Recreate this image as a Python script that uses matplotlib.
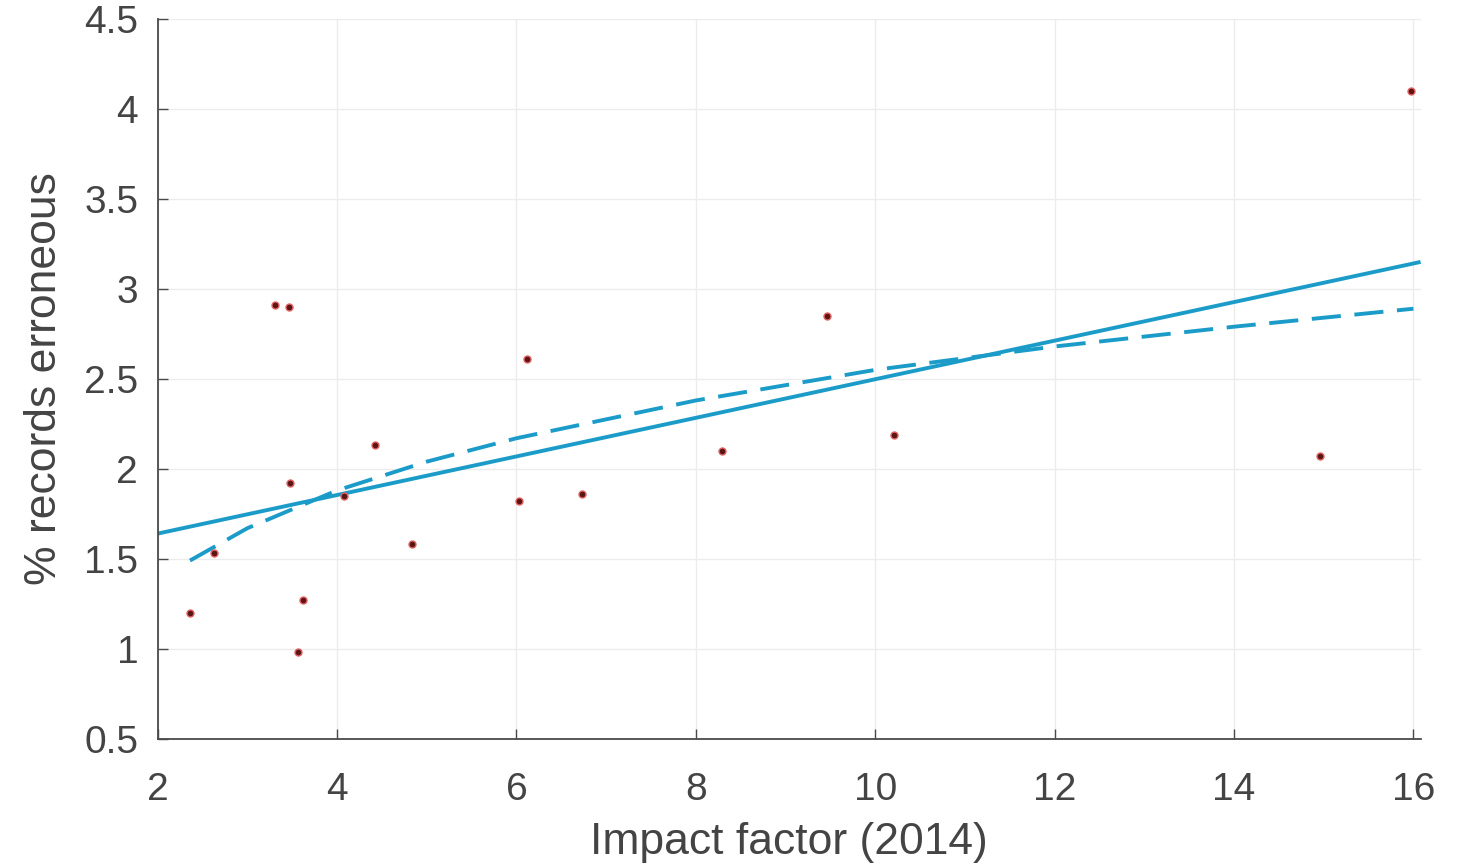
import matplotlib.pyplot as plt

# scatter data
impact = [2.36, 2.63, 3.31, 3.46, 3.47, 3.56, 3.62, 4.08, 4.42, 4.84,
          6.03, 6.12, 6.73, 8.29, 9.46, 10.21, 14.96, 15.97]
pct_err = [1.20, 1.53, 2.91, 2.90, 1.92, 0.98, 1.27, 1.85, 2.13, 1.58,
           1.82, 2.61, 1.86, 2.10, 2.85, 2.19, 2.07, 4.10]

# linear fit line (end points)
lin_x = [2.0, 16.08]
lin_y = [1.64, 3.15]

# curved (dashed) fit
curve_x = [2.36, 3.0, 4.0, 5.0, 6.0, 8.0, 10.0, 12.0, 14.0, 16.0]
curve_y = [1.49, 1.67, 1.88, 2.04, 2.17, 2.38, 2.55, 2.68, 2.79, 2.89]

plt.rcParams['font.family'] = ['Liberation Sans', 'DejaVu Sans']

fig = plt.figure(figsize=(14.6, 8.66), dpi=100)
ax = fig.add_axes([0.108, 0.147, 0.865, 0.831])

line_col = '#1b9cc8'
ax.plot(lin_x, lin_y, color=line_col, lw=2.8, solid_capstyle='butt')
ax.plot(curve_x, curve_y, color=line_col, lw=2.8, dashes=(7.5, 3.5))
ax.plot(impact, pct_err, linestyle='', marker='o', ms=5,
        color='#5c1515', markeredgecolor='#e06060', markeredgewidth=1)

ax.set_xlim(2, 16.08)
ax.set_ylim(0.5, 4.5)
ax.set_xticks([2, 4, 6, 8, 10, 12, 14, 16])
ax.set_yticks([0.5, 1, 1.5, 2, 2.5, 3, 3.5, 4, 4.5])
ax.set_yticklabels(['0.5', '1', '1.5', '2', '2.5', '3', '3.5', '4', '4.5'])

ax.grid(True, color='#ececec', lw=1)
ax.set_axisbelow(True)
for s in ['top', 'right']:
    ax.spines[s].set_visible(False)
for s in ['left', 'bottom']:
    ax.spines[s].set_color('#4a4a4a')
    ax.spines[s].set_linewidth(1.3)
ax.tick_params(direction='in', length=7, width=1, color='#4a4a4a',
               labelsize=28, labelcolor='#444444')
ax.tick_params(axis='x', pad=24)
ax.tick_params(axis='y', pad=14)

ax.set_xlabel('Impact factor (2014)', fontsize=32, color='#444444', labelpad=10)
ax.set_ylabel('% records erroneous', fontsize=32, color='#444444', labelpad=14)

plt.savefig('out.png', dpi=100)
